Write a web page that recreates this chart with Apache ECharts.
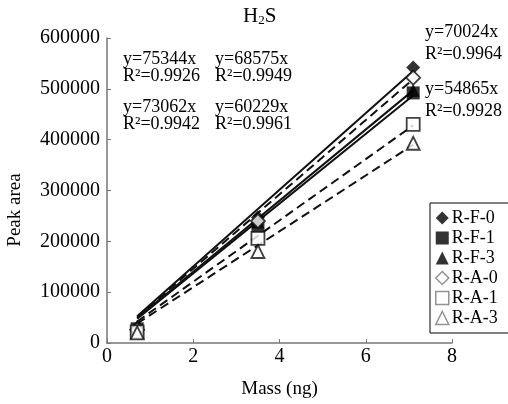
<!DOCTYPE html>
<html><head><meta charset="utf-8">
<script src="https://cdn.jsdelivr.net/npm/echarts@6/dist/echarts.min.js"></script>
<style>html,body{margin:0;padding:0;background:#fff}#c{width:508px;height:404px}</style>
</head><body><div id="c"></div>
<script>
// ---- data ----
const massX = [0.7, 3.5, 7.1];
const seriesNames = ['R-F-0', 'R-F-1', 'R-F-3', 'R-A-0', 'R-A-1', 'R-A-3'];
const rF0 = [30000, 247000, 542000];
const rF1 = [28000, 229000, 492000];
const rF3 = [33000, 238000, 497000];
const rA0 = [26000, 240000, 522000];
const rA1 = [22000, 206000, 430000];
const rA3 = [20000, 180000, 393000];
// fitted lines, endpoints
const fitX = [0.7, 7.1];
const fitF0 = [52700, 535000];
const fitF1 = [48000, 487000];
const fitF3 = [49000, 497000];
const fitA0 = [51100, 519000];
const fitA1 = [42200, 428000];
const fitA3 = [38400, 390000];
const xTicks = [0, 2, 4, 6, 8];
const yTicks = [0, 100000, 200000, 300000, 400000, 500000, 600000];
const eqTopLeft = [['y=75344x', 'R²=0.9926'], ['y=68575x', 'R²=0.9949'], ['y=73062x', 'R²=0.9942'], ['y=60229x', 'R²=0.9961']];
const eqRight = [['y=70024x', 'R²=0.9964'], ['y=54865x', 'R²=0.9928']];

const FONT = '"Liberation Serif", "Times New Roman", serif';
const pts = (xs, ys) => xs.map((x, i) => [x, ys[i]]);
const pointSets = [rF0, rF1, rF3, rA0, rA1, rA3];
const fitSets = [fitF0, fitF1, fitF3, fitA0, fitA1, fitA3];
const symbols = ['diamond', 'rect', 'triangle', 'diamond', 'rect', 'triangle'];
const sizes = [14, 13, 13, 14, 13, 13];

const series = [];
fitSets.forEach((f, i) => {
  const dashed = i >= 3;
  series.push({
    type: 'line', name: 'fit' + i, data: pts(fitX, f), symbol: 'none', silent: true,
    lineStyle: { color: '#111', width: 2, type: dashed ? [9, 5] : 'solid' }, z: 1
  });
});
pointSets.forEach((p, i) => {
  const open = i >= 3;
  series.push({
    type: 'scatter', name: seriesNames[i], data: pts(massX, p), symbol: symbols[i], symbolSize: sizes[i],
    itemStyle: open ? { color: '#fff', borderColor: '#111', borderWidth: 1.8 } : { color: '#000', borderColor: '#000', borderWidth: 0 },
    z: 3
  });
});

const graphics = [];
graphics.push({ type: 'text', left: 243, top: 6, style: {
  rich: { a: { fontFamily: FONT, fontSize: 21, fill: '#000' }, s: { fontFamily: FONT, fontSize: 13, fill: '#000', padding: [9, 0, 0, 0] } },
  text: '{a|H}{s|2}{a|S}' } });
const eqPos = [[123, 50], [215, 50], [123, 98], [215, 98]];
eqTopLeft.forEach((e, i) => {
  graphics.push({ type: 'text', left: eqPos[i][0], top: eqPos[i][1], style: { text: e[0], font: '18px ' + FONT, fill: '#000' } });
  graphics.push({ type: 'text', left: eqPos[i][0], top: eqPos[i][1] + 17, style: { text: e[1], font: '18px ' + FONT, fill: '#000' } });
});
const eqRPos = [[425, 23], [425, 80]];
eqRight.forEach((e, i) => {
  graphics.push({ type: 'text', left: eqRPos[i][0], top: eqRPos[i][1], style: { text: e[0], font: '18px ' + FONT, fill: '#000' } });
  graphics.push({ type: 'text', left: eqRPos[i][0], top: eqRPos[i][1] + 22, style: { text: e[1], font: '18px ' + FONT, fill: '#000' } });
});
graphics.push({ type: 'text', x: 15, y: 210, rotation: Math.PI / 2, style: { text: 'Peak area', font: '19px ' + FONT, fill: '#000', align: 'center', verticalAlign: 'middle' } });

const chart = echarts.init(document.getElementById('c'), null, { renderer: 'canvas' });
chart.setOption({
  animation: false,
  backgroundColor: '#fff',
  grid: { left: 107, right: 56, top: 38, bottom: 60 },
  xAxis: {
    type: 'value', min: xTicks[0], max: xTicks[xTicks.length - 1], interval: 2,
    name: 'Mass (ng)', nameLocation: 'middle', nameGap: 37,
    nameTextStyle: { fontFamily: FONT, fontSize: 19, color: '#000' },
    axisLine: { lineStyle: { color: '#777', width: 1.5 } },
    axisTick: { inside: true, length: 4, lineStyle: { color: '#777' } },
    axisLabel: { fontFamily: FONT, fontSize: 20, color: '#000', margin: 4 },
    splitLine: { show: false }
  },
  yAxis: {
    type: 'value', min: yTicks[0], max: yTicks[yTicks.length - 1], interval: 100000,
    axisLine: { show: true, lineStyle: { color: '#777', width: 1.5 } },
    axisTick: { show: true, inside: true, length: 4, lineStyle: { color: '#777' } },
    axisLabel: { fontFamily: FONT, fontSize: 20, color: '#000', margin: 7, formatter: v => String(v) },
    splitLine: { show: false }
  },
  legend: {
    orient: 'vertical', left: 430, top: 203,
    data: seriesNames.map((n, i) => i >= 3 ? { name: n, itemStyle: { color: '#fff', borderColor: '#777', borderWidth: 1.5 } } : { name: n }),
    itemWidth: 13, itemHeight: 13, itemGap: 2,
    padding: [6, 40, 6, 5], borderColor: '#000', borderWidth: 1,
    textStyle: { fontFamily: FONT, fontSize: 18, lineHeight: 18, color: '#000', padding: [0, 0, 0, -2] }
  },
  series: series,
  graphic: graphics
});
</script>
</body></html>
